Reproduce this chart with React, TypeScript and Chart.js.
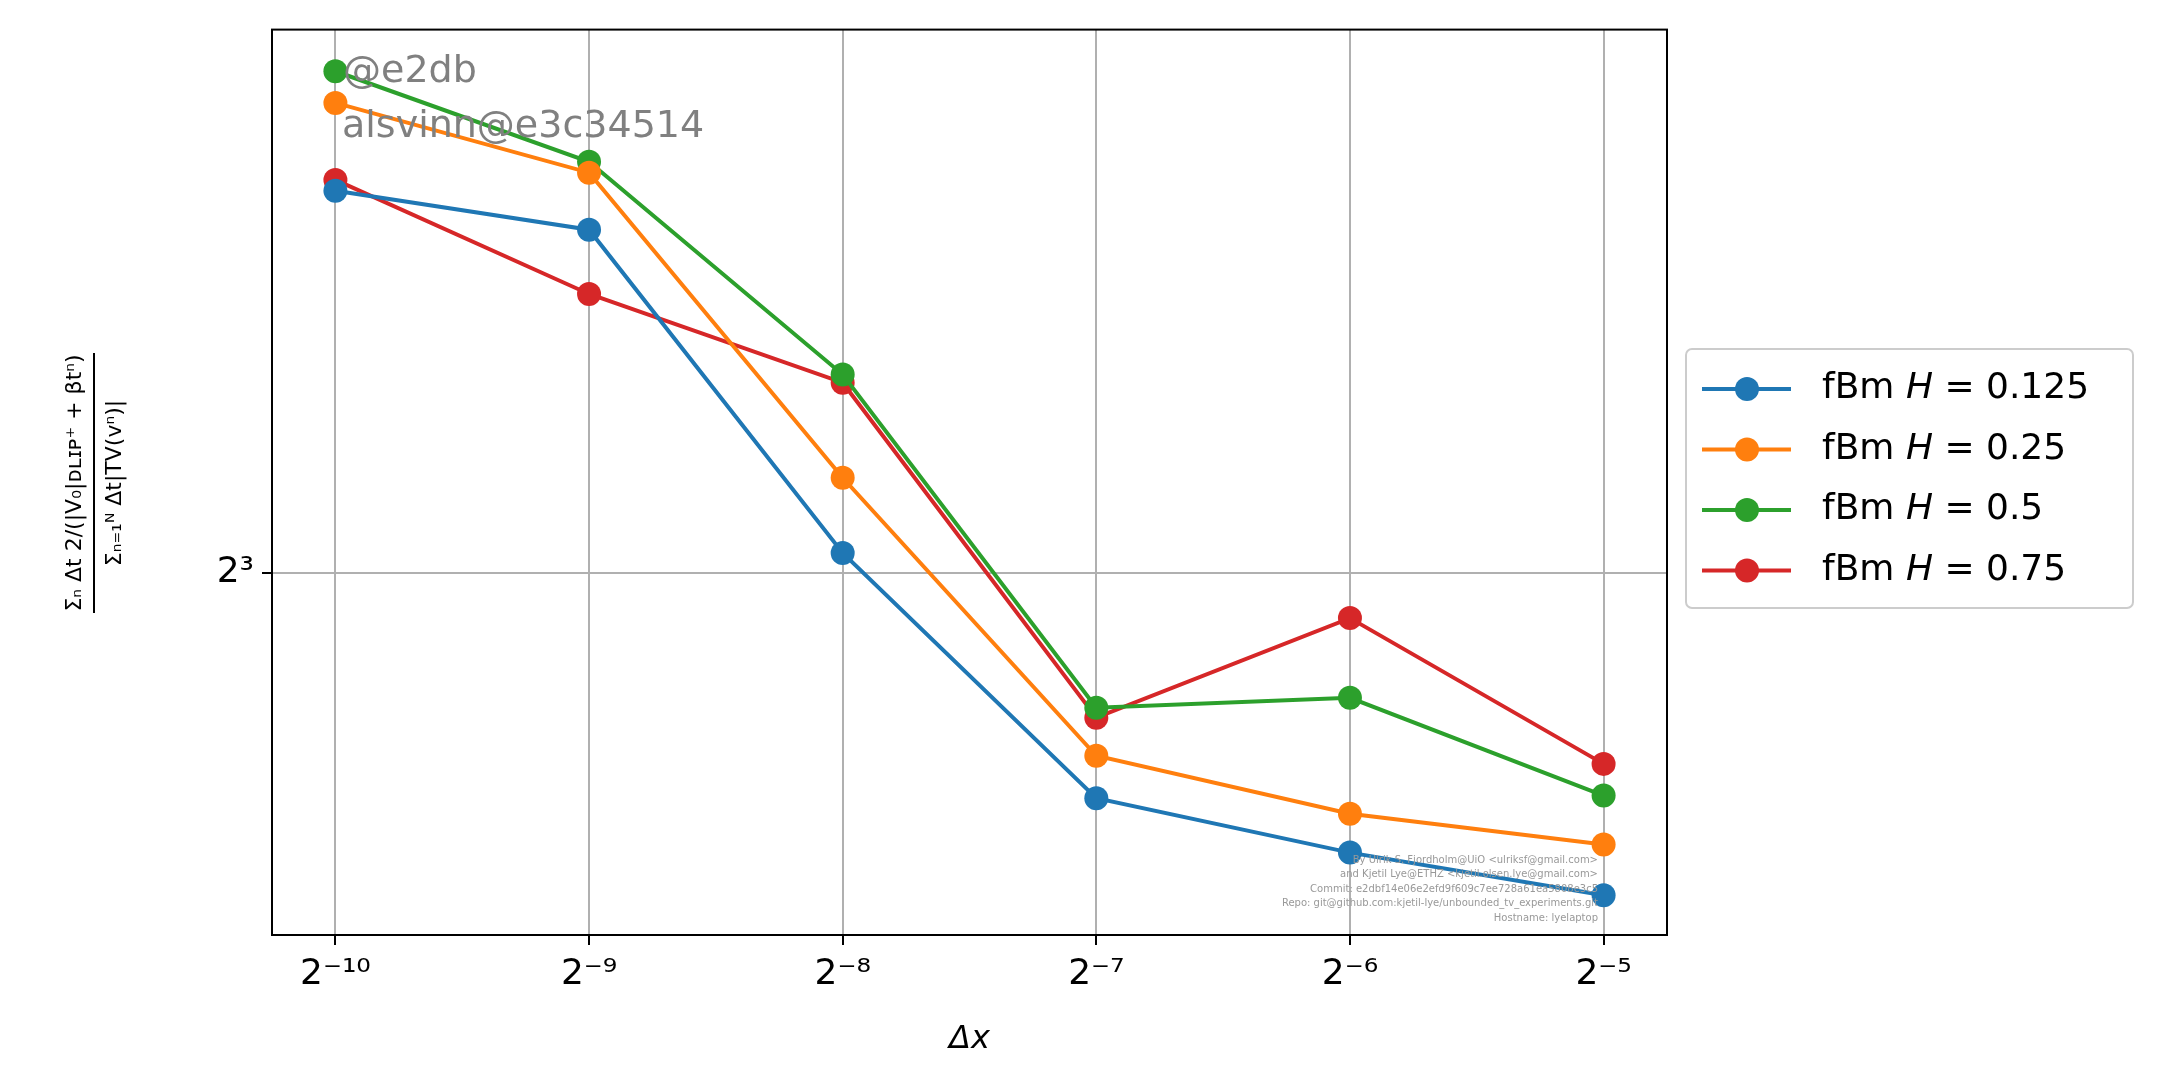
import React, { useEffect, useRef } from 'react'
import Chart from 'chart.js/auto'

const exponents = [-10, -9, -8, -7, -6, -5]
const tickLabels = ['2⁻¹⁰', '2⁻⁹', '2⁻⁸', '2⁻⁷', '2⁻⁶', '2⁻⁵']
const seriesNames = ['0.125', '0.25', '0.5', '0.75']
const colors = ['#1f77b4', '#ff7f0e', '#2ca02c', '#d62728']
// log2 of the y values
const blueLog = [3.422, 3.379, 3.022, 2.751, 2.691, 2.644]
const orangeLog = [3.519, 3.442, 3.105, 2.798, 2.734, 2.7]
const greenLog = [3.554, 3.454, 3.219, 2.851, 2.862, 2.754]
const redLog = [3.434, 3.308, 3.21, 2.84, 2.95, 2.789]
const credits = [
  'By Ulrik S. Fjordholm@UiO <ulriksf@gmail.com>',
  'and Kjetil Lye@ETHZ <kjetil.olsen.lye@gmail.com>',
  'Commit: e2dbf14e06e2efd9f609c7ee728a61ea5808e3c5',
  'Repo: git@github.com:kjetil-lye/unbounded_tv_experiments.git',
  'Hostname: lyelaptop',
]

const FONT = '"DejaVu Sans", sans-serif'

const extras = {
  id: 'extras',
  afterDraw(chart: Chart) {
    const ctx = chart.ctx
    const area = chart.chartArea
    ctx.save()
    // watermarks
    ctx.fillStyle = '#808080'
    ctx.font = `38px ${FONT}`
    ctx.textBaseline = 'middle'
    ctx.fillText('@e2db', 343, 72)
    ctx.fillText('alsvinn@e3c34514', 342, 127)
    ctx.font = `10px ${FONT}`
    ctx.fillStyle = '#999'
    ctx.textAlign = 'right'
    credits.forEach((c, i) => ctx.fillText(c, 1598, 860 + i * 14.5))

    // axis titles
    ctx.fillStyle = '#000'
    ctx.textAlign = 'center'
    ctx.font = `italic 32px ${FONT}`
    ctx.fillText('Δx', (area.left + area.right) / 2, 1040)
    ctx.translate(95, 483)
    ctx.rotate(-Math.PI / 2)
    ctx.font = `22px ${FONT}`
    ctx.fillText('Σₙ Δt 2/(|V₀|ᴅʟɪᴘ⁺ + βtⁿ)', 0, -20)
    ctx.fillRect(-130, -2, 260, 2)
    ctx.fillText('Σₙ₌₁ᴺ Δt|TV(vⁿ)|', 0, 20)
    ctx.setTransform(1, 0, 0, 1, 0, 0)

    // legend
    ctx.strokeStyle = '#ccc'
    ctx.lineWidth = 2
    ctx.fillStyle = 'rgba(255,255,255,0.8)'
    ctx.beginPath()
    ctx.roundRect(1686, 349, 447, 259, 6)
    ctx.fill()
    ctx.stroke()
    ctx.textAlign = 'left'
    seriesNames.forEach((n, i) => {
      const y = 389 + i * 60.5
      ctx.strokeStyle = colors[i]
      ctx.lineWidth = 4
      ctx.beginPath()
      ctx.moveTo(1702, y)
      ctx.lineTo(1791, y)
      ctx.stroke()
      ctx.fillStyle = colors[i]
      ctx.beginPath()
      ctx.arc(1747, y, 12, 0, Math.PI * 2)
      ctx.fill()
      ctx.fillStyle = '#000'
      ctx.font = `36px ${FONT}`
      let x = 1822
      ctx.fillText('fBm ', x, y)
      x += ctx.measureText('fBm ').width
      ctx.font = `italic 36px ${FONT}`
      ctx.fillText('H', x, y)
      x += ctx.measureText('H').width
      ctx.font = `36px ${FONT}`
      ctx.fillText(' = ' + n, x, y)
    })
    ctx.restore()
  },
}

export default function App() {
  const ref = useRef<HTMLCanvasElement | null>(null)
  useEffect(() => {
    if (!ref.current) return
    const logs = [blueLog, orangeLog, greenLog, redLog]
    const chart = new Chart(ref.current, {
      type: 'line',
      data: {
        datasets: logs.map((l, i) => ({
          label: 'fBm H = ' + seriesNames[i],
          data: exponents.map((e, j) => ({ x: e, y: Math.pow(2, l[j]) })),
          borderColor: colors[i],
          backgroundColor: colors[i],
          borderWidth: 4,
          pointRadius: 12,
          pointBorderWidth: 0,
          tension: 0,
        })),
      },
      options: {
        responsive: false,
        animation: false,
        devicePixelRatio: 1,
        layout: { padding: { top: 28, right: 498, left: 0, bottom: 0 } },
        plugins: { legend: { display: false }, tooltip: { enabled: false } },
        scales: {
          x: {
            type: 'linear',
            min: -10.25,
            max: -4.75,
            afterBuildTicks: (s: any) => { s.ticks = exponents.map((v) => ({ value: v })) },
            afterFit: (s: any) => { s.height = 157 },
            ticks: {
              callback: (v: any) => tickLabels[exponents.indexOf(Number(v))] ?? '',
              color: '#000',
              font: { family: FONT, size: 36 },
              maxRotation: 0,
              padding: 8,
            },
            grid: { color: '#b0b0b0', lineWidth: 2, tickLength: 10, tickColor: '#000' },
            border: { color: '#000', width: 2 },
          },
          y: {
            type: 'logarithmic',
            min: Math.pow(2, 2.6),
            max: Math.pow(2, 3.6),
            afterBuildTicks: (s: any) => { s.ticks = [{ value: 8 }] },
            afterFit: (s: any) => { s.width = 272 },
            ticks: {
              callback: (v: any) => (Number(v) === 8 ? '2³' : ''),
              color: '#000',
              font: { family: FONT, size: 36 },
              padding: 8,
            },
            grid: { color: '#b0b0b0', lineWidth: 2, tickLength: 10, tickColor: '#000' },
            border: { color: '#000', width: 2 },
          },
        } as any,
      },
      plugins: [
        extras,
        {
          id: 'frame',
          afterDatasetsDraw(c: Chart) {
            const a = c.chartArea
            c.ctx.save()
            c.ctx.strokeStyle = '#000'
            c.ctx.lineWidth = 2
            c.ctx.strokeRect(a.left, a.top, a.right - a.left, a.bottom - a.top)
            c.ctx.restore()
          },
        },
      ],
    })
    return () => chart.destroy()
  }, [])
  return (
    <div style={{ position: 'fixed', left: 0, top: 0, background: '#fff' }}>
      <canvas ref={ref} width={2165} height={1092} style={{ display: 'block' }} />
    </div>
  )
}
